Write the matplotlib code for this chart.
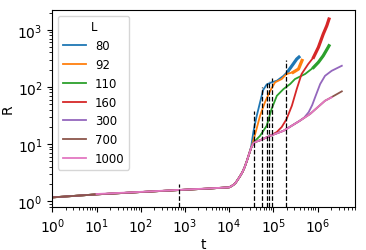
import numpy as np
import matplotlib.pyplot as plt

# log10(t) and R, one pair of lists per system size L
labels = ["80", "92", "110", "160", "300", "700", "1000"]

# shared early part (all sizes sit on top of each other here)
common_logt = [0.0, 1.0, 2.0, 3.0, 3.5, 4.0, 4.05, 4.1, 4.15, 4.2, 4.25, 4.3, 4.35, 4.4, 4.45]
common_R = [1.16, 1.31, 1.44, 1.58, 1.65, 1.74, 1.82, 1.93, 2.1, 2.4, 2.75, 3.2, 3.9, 5.0, 6.6]

logt_80 = [4.5, 4.55, 4.62, 4.70, 4.77, 4.85, 4.96, 5.08, 5.23, 5.34, 5.45, 5.53, 5.58]
R_80 = [9.0, 16.5, 30.0, 53.6, 88.0, 110, 120, 128, 156, 191, 251, 307, 332]

logt_92 = [4.5, 4.55, 4.62, 4.70, 4.81, 4.93, 5.04, 5.19, 5.30, 5.45, 5.57, 5.65]
R_92 = [8.6, 11.5, 18.2, 31.2, 53.6, 85.5, 120, 137, 168, 180, 205, 290]

logt_110 = [4.5, 4.55, 4.62, 4.70, 4.85, 4.96, 5.08, 5.23, 5.38, 5.49, 5.72, 5.91, 6.02, 6.13, 6.24, 6.26]
R_110 = [8.6, 10.5, 12.0, 13.9, 20.8, 40.8, 69.8, 91.5, 112, 137, 168, 219, 269, 351, 492, 525]

logt_160 = [4.5, 4.55, 4.6, 4.70, 4.93, 5.08, 5.19, 5.30, 5.42, 5.53, 5.64, 5.79, 5.91, 6.02, 6.13, 6.21, 6.26]
R_160 = [8.6, 10.3, 10.9, 11.6, 13.9, 16.2, 19.8, 27.3, 46.7, 91.5, 168, 251, 329, 492, 841, 1175, 1540]

logt_300 = [4.5, 4.55, 4.6, 4.70, 4.93, 5.23, 5.60, 5.70, 5.80, 5.88, 5.95, 6.06, 6.17, 6.32, 6.55]
R_300 = [8.6, 10.3, 10.9, 11.6, 13.9, 17.0, 25.5, 29.0, 36.0, 48.0, 67.0, 112, 156, 191, 234]

logt_700 = [4.5, 4.55, 4.6, 4.70, 4.93, 5.23, 5.60, 5.83, 6.17, 6.24, 6.55]
R_700 = [8.6, 10.3, 10.9, 11.6, 13.9, 17.0, 25.5, 33.4, 57.1, 61.0, 83.4]

logt_1000 = [1.0, 2.0, 3.0, 3.5, 4.0, 4.05, 4.1, 4.15, 4.2, 4.25, 4.3, 4.35, 4.4, 4.45,
             4.5, 4.55, 4.6, 4.70, 4.93, 5.23, 5.60, 5.83, 6.17, 6.32]
R_1000 = [1.33, 1.45, 1.59, 1.66, 1.74, 1.82, 1.93, 2.1, 2.4, 2.75, 3.2, 3.9, 5.0, 6.6,
          8.6, 10.3, 10.9, 11.6, 13.9, 17.0, 25.5, 33.4, 57.1, 65.5]

# vertical markers
vline_t = [747, 37200, 56400, 70900, 80000, 93500, 191000]
vline_top = [2.0, 38, 100, 121, 128, 143, 298]

series = [(logt_80, R_80), (logt_92, R_92), (logt_110, R_110), (logt_160, R_160),
          (logt_300, R_300), (logt_700, R_700), (logt_1000, R_1000)]
# where the curves get noisy (drawn thicker from there)
noisy_from = {"80": 5.34, "92": 5.4, "110": 5.8, "160": 5.85}

fig = plt.figure(figsize=(3.66, 2.51), dpi=100)
ax = fig.add_axes([0.143, 0.171, 0.827, 0.785])

for i, (lab, (lt, r)) in enumerate(zip(labels, series)):
    lt = list(lt)
    r = list(r)
    if lab != "1000":
        lt = common_logt + lt
        r = common_R + r
    t = 10 ** np.array(lt)
    r = np.array(r)
    col = "C%d" % i
    ax.plot(t, r, color=col, lw=1.3, label=lab, zorder=2 + 0.1 * i)
    if lab in noisy_from:
        m = np.array(lt) >= noisy_from[lab]
        ax.plot(t[m], r[m], color=col, lw=2.3, zorder=2 + 0.1 * i)

ymin, ymax = 0.785, 2213
for tv, top in zip(vline_t, vline_top):
    ax.plot([tv, tv], [ymin, top], color="black", ls="--", lw=0.9, zorder=5)

ax.set_xscale("log")
ax.set_yscale("log")
ax.set_xlim(1, 7.06e6)
ax.set_ylim(ymin, ymax)
ax.set_xlabel("t", labelpad=1)
ax.set_ylabel("R", labelpad=2)
ax.legend(title="L", loc="upper left", fontsize="small", title_fontsize="small")

fig.savefig("out.png", dpi=100)
